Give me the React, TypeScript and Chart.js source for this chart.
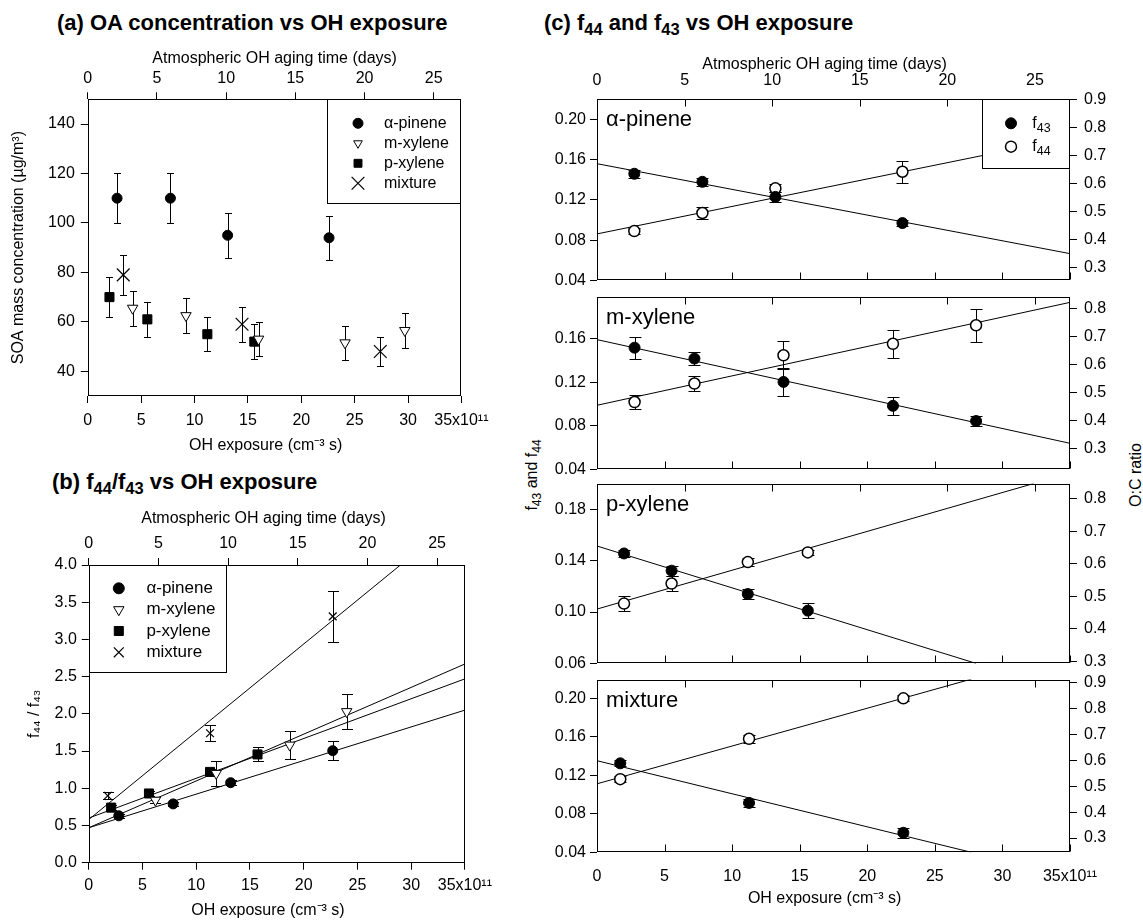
import React, { useEffect, useRef } from 'react';
import { Chart, registerables } from 'chart.js';

Chart.register(...registerables);

const FONT = "'Liberation Sans', Arial, Helvetica, sans-serif";
Chart.defaults.font.family = FONT;
Chart.defaults.color = '#000';

// ====================== DATA ======================
// shared axes
const exposureTicks = [0, 5, 10, 15, 20, 25, 30, 35];
const exposureTickLabels = ['0', '5', '10', '15', '20', '25', '30', '35x10¹¹'];
const exposureMax = 35;
const dayTicks = [0, 5, 10, 15, 20, 25];
const dayTickLabels = ['0', '5', '10', '15', '20', '25'];
const dayMax = 27;

// (a) OA concentration vs OH exposure
const aYTicks = [40, 60, 80, 100, 120, 140];
const aYTickLabels = ['40', '60', '80', '100', '120', '140'];
const aYRange = [30, 150];
const aPineneX = [2.74, 7.74, 13.1, 22.6];
const aPineneY = [110, 110, 95, 94];
const aPineneErr = [10, 10, 9, 9];
const aMxyleneX = [4.2, 9.2, 16.0, 24.1, 29.7];
const aMxyleneY = [65.5, 62.5, 53, 51.5, 56.5];
const aMxyleneErr = [7, 7, 7, 7, 7];
const aPxyleneX = [2.03, 5.58, 11.2, 15.6];
const aPxyleneY = [70, 61, 55, 52];
const aPxyleneErr = [8, 7, 7, 7];
const aMixtureX = [3.32, 14.45, 27.4];
const aMixtureY = [79, 59, 48];
const aMixtureErr = [8, 7, 6];

// (b) f44/f43 vs OH exposure
const bYTicks = [0, 0.5, 1, 1.5, 2, 2.5, 3, 3.5, 4];
const bYTickLabels = ['0.0', '0.5', '1.0', '1.5', '2.0', '2.5', '3.0', '3.5', '4.0'];
const bYRange = [0, 4];
const bPineneX = [2.79, 7.85, 13.2, 22.7];
const bPineneY = [0.63, 0.79, 1.075, 1.505];
const bPineneErr = [0.03, 0.03, 0.03, 0.125];
const bMxyleneX = [6.2, 11.86, 18.7, 24.0];
const bMxyleneY = [0.84, 1.2, 1.58, 2.03];
const bMxyleneErr = [0.04, 0.165, 0.185, 0.24];
const bPxyleneX = [2.08, 5.6, 11.28, 15.7];
const bPxyleneY = [0.74, 0.93, 1.22, 1.455];
const bPxyleneErr = [0.03, 0.03, 0.04, 0.095];
const bMixtureX = [1.76, 11.28, 22.7];
const bMixtureY = [0.9, 1.74, 3.31];
const bMixtureErr = [0.045, 0.11, 0.34];
const bPineneFitX = [0, 35];
const bPineneFitY = [0.47, 2.05];
const bMxyleneFitX = [0, 35];
const bMxyleneFitY = [0.47, 2.67];
const bPxyleneFitX = [0, 35];
const bPxyleneFitY = [0.6, 2.47];
const bMixtureFitX = [0, 29.0];
const bMixtureFitY = [0.58, 4.0];

// (c) f44 and f43 vs OH exposure
const cPineneX = [2.76, 7.8, 13.2, 22.6];
const cPineneF43 = [0.146, 0.138, 0.123, 0.097];
const cPineneF43Err = [0.004, 0.004, 0.005, 0.003];
const cPineneF44 = [0.089, 0.107, 0.1315, 0.148];
const cPineneF44Err = [0.003, 0.006, 0.004, 0.011];
const cPineneF43FitX = [0, 35];
const cPineneF43FitY = [0.156, 0.0666];
const cPineneF44FitX = [0, 35];
const cPineneF44FitY = [0.0862, 0.1818];
const cPineneLeftRange = [0.04, 0.22];
const cPineneLeftTicks = [0.04, 0.08, 0.12, 0.16, 0.2];
const cPineneLeftLabels = ['0.04', '0.08', '0.12', '0.16', '0.20'];
const cPineneRightRange = [0.254, 0.9];
const cPineneRightTicks = [0.3, 0.4, 0.5, 0.6, 0.7, 0.8, 0.9];
const cPineneRightLabels = ['0.3', '0.4', '0.5', '0.6', '0.7', '0.8', '0.9'];

const cMxyleneX = [2.78, 7.21, 13.8, 21.9, 28.05];
const cMxyleneF43 = [0.152, 0.142, 0.1205, 0.0985, 0.0845];
const cMxyleneF43Err = [0.01, 0.006, 0.013, 0.008, 0.005];
const cMxyleneF44 = [0.102, 0.119, 0.145, 0.1556, 0.1726];
const cMxyleneF44Err = [0.006, 0.007, 0.013, 0.013, 0.015];
const cMxyleneF43FitX = [0, 35];
const cMxyleneF43FitY = [0.1594, 0.064];
const cMxyleneF44FitX = [0, 35];
const cMxyleneF44FitY = [0.099, 0.1937];
const cMxyleneLeftRange = [0.04, 0.199];
const cMxyleneLeftTicks = [0.04, 0.08, 0.12, 0.16];
const cMxyleneLeftLabels = ['0.04', '0.08', '0.12', '0.16'];
const cMxyleneRightRange = [0.227, 0.841];
const cMxyleneRightTicks = [0.3, 0.4, 0.5, 0.6, 0.7, 0.8];
const cMxyleneRightLabels = ['0.3', '0.4', '0.5', '0.6', '0.7', '0.8'];

const cPxyleneX = [2.0, 5.52, 11.16, 15.6];
const cPxyleneF43 = [0.1456, 0.1322, 0.114, 0.1011];
const cPxyleneF43Err = [0.003, 0.004, 0.004, 0.006];
const cPxyleneF44 = [0.1066, 0.1222, 0.1389, 0.1464];
const cPxyleneF44Err = [0.006, 0.006, 0.003, 0.002];
const cPxyleneF43FitX = [0, 28.05];
const cPxyleneF43FitY = [0.1514, 0.06];
const cPxyleneF44FitX = [0, 32.3];
const cPxyleneF44FitY = [0.1023, 0.2];
const cPxyleneLeftRange = [0.06, 0.2];
const cPxyleneLeftTicks = [0.06, 0.1, 0.14, 0.18];
const cPxyleneLeftLabels = ['0.06', '0.10', '0.14', '0.18'];
const cPxyleneRightRange = [0.293, 0.847];
const cPxyleneRightTicks = [0.3, 0.4, 0.5, 0.6, 0.7, 0.8];
const cPxyleneRightLabels = ['0.3', '0.4', '0.5', '0.6', '0.7', '0.8'];

const cMixtureX = [1.72, 11.25, 22.67];
const cMixtureF43 = [0.1325, 0.0913, 0.0603];
const cMixtureF43Err = [0.003, 0.004, 0.005];
const cMixtureF44 = [0.116, 0.158, 0.2];
const cMixtureF44Err = [0.003, 0.004, 0.003];
const cMixtureF43FitX = [0, 27.7];
const cMixtureF43FitY = [0.1352, 0.04];
const cMixtureF44FitX = [0, 27.7];
const cMixtureF44FitY = [0.1112, 0.22];
const cMixtureLeftRange = [0.04, 0.2195];
const cMixtureLeftTicks = [0.04, 0.08, 0.12, 0.16, 0.2];
const cMixtureLeftLabels = ['0.04', '0.08', '0.12', '0.16', '0.20'];
const cMixtureRightRange = [0.245, 0.912];
const cMixtureRightTicks = [0.3, 0.4, 0.5, 0.6, 0.7, 0.8, 0.9];
const cMixtureRightLabels = ['0.3', '0.4', '0.5', '0.6', '0.7', '0.8', '0.9'];

// ====================== HELPERS ======================
const pts = (xs: number[], ys: number[]) => xs.map((x, i) => ({ x, y: ys[i] }));

const mk: any = {
  circle: (r: number) => ({ pointStyle: 'circle', pointRadius: r, pointHoverRadius: r, pointBackgroundColor: '#000', pointBorderColor: '#000', pointBorderWidth: 1 }),
  openCircle: (r: number) => ({ pointStyle: 'circle', pointRadius: r, pointHoverRadius: r, pointBackgroundColor: '#fff', pointBorderColor: '#000', pointBorderWidth: 1.5 }),
  triDown: (r: number) => ({ pointStyle: 'triangle', pointRotation: 180, pointRadius: r, pointHoverRadius: r, pointBackgroundColor: '#fff', pointBorderColor: '#000', pointBorderWidth: 1 }),
  square: (r: number) => ({ pointStyle: 'rect', pointRadius: r, pointHoverRadius: r, pointBackgroundColor: '#000', pointBorderColor: '#000', pointBorderWidth: 1 }),
  cross: (r: number) => ({ pointStyle: 'crossRot', pointRadius: r, pointHoverRadius: r, pointBackgroundColor: '#000', pointBorderColor: '#000', pointBorderWidth: 1.2 }),
};

const fitLine = (xs: number[], ys: number[]) => ({
  data: pts(xs, ys), showLine: true, pointRadius: 0, pointHoverRadius: 0,
  borderColor: '#000', borderWidth: 1, fill: false,
});

function drawRich(ctx: any, segs: any[], x: number, y: number, size: number) {
  ctx.textBaseline = 'middle';
  ctx.textAlign = 'left';
  let cx = x;
  for (const s of segs) {
    const fs = s.sub || s.sup ? size * 0.78 : size;
    ctx.font = `${fs}px ${FONT}`;
    const dy = s.sub ? size * 0.3 : s.sup ? -size * 0.35 : 0;
    ctx.fillText(s.t, cx, y + dy);
    cx += ctx.measureText(s.t).width;
  }
}

function drawMarker(ctx: any, kind: string, x: number, y: number, r: number) {
  ctx.save();
  ctx.strokeStyle = '#000';
  ctx.lineWidth = 1;
  ctx.beginPath();
  if (kind === 'circle' || kind === 'openCircle') {
    ctx.arc(x, y, r, 0, Math.PI * 2);
    ctx.fillStyle = kind === 'circle' ? '#000' : '#fff';
    ctx.fill();
    if (kind === 'openCircle') ctx.lineWidth = 1.5;
    ctx.stroke();
  } else if (kind === 'triDown') {
    ctx.moveTo(x, y + r);
    ctx.lineTo(x - r * 0.866, y - r / 2);
    ctx.lineTo(x + r * 0.866, y - r / 2);
    ctx.closePath();
    ctx.fillStyle = '#fff';
    ctx.fill();
    ctx.stroke();
  } else if (kind === 'square') {
    const s = r * Math.SQRT1_2;
    ctx.rect(x - s, y - s, 2 * s, 2 * s);
    ctx.fillStyle = '#000';
    ctx.fill();
    ctx.stroke();
  } else if (kind === 'cross') {
    const s = r * Math.SQRT1_2;
    ctx.lineWidth = 1.2;
    ctx.moveTo(x - s, y - s); ctx.lineTo(x + s, y + s);
    ctx.moveTo(x - s, y + s); ctx.lineTo(x + s, y - s);
    ctx.stroke();
  }
  ctx.restore();
}

const framePlugin = () => ({
  id: 'frame',
  afterDatasetsDraw(chart: any) {
    const { ctx, chartArea: a } = chart;
    ctx.save();
    ctx.strokeStyle = '#000';
    ctx.lineWidth = 1;
    const l = Math.round(a.left) + 0.5, t = Math.round(a.top) + 0.5;
    const r = Math.round(a.right) - 0.5, b = Math.round(a.bottom) - 0.5;
    ctx.strokeRect(l, t, r - l, b - t);
    ctx.restore();
  },
});

const errorBarPlugin = (capHalf: number, width = 1) => ({
  id: 'errorBars',
  beforeDatasetsDraw(chart: any) {
    const { ctx, chartArea: a } = chart;
    ctx.save();
    ctx.beginPath();
    ctx.rect(a.left, a.top, a.width, a.height);
    ctx.clip();
    ctx.strokeStyle = '#000';
    ctx.lineWidth = width;
    chart.data.datasets.forEach((ds: any) => {
      if (!ds.errors) return;
      const xs = chart.scales[ds.xAxisID || 'x'];
      const ys = chart.scales[ds.yAxisID || 'y'];
      ds.data.forEach((p: any, j: number) => {
        const e = ds.errors[j];
        if (!e) return;
        const x = Math.round(xs.getPixelForValue(p.x)) + 0.5;
        const y1 = Math.round(ys.getPixelForValue(p.y - e)) + 0.5;
        const y2 = Math.round(ys.getPixelForValue(p.y + e)) + 0.5;
        ctx.beginPath();
        ctx.moveTo(x, y1); ctx.lineTo(x, y2);
        ctx.moveTo(x - capHalf, y1); ctx.lineTo(x + capHalf, y1);
        ctx.moveTo(x - capHalf, y2); ctx.lineTo(x + capHalf, y2);
        ctx.stroke();
      });
    });
    ctx.restore();
  },
});

const innerTicksPlugin = (len: number) => ({
  id: 'innerTicks',
  afterDatasetsDraw(chart: any) {
    const { ctx, chartArea: a } = chart;
    ctx.save();
    ctx.strokeStyle = '#000';
    ctx.lineWidth = 1;
    ctx.beginPath();
    const top = Math.round(a.top) + 0.5;
    const bot = Math.round(a.bottom) - 0.5;
    dayTicks.forEach((v) => {
      const x = Math.round(chart.scales.x2.getPixelForValue(v)) + 0.5;
      ctx.moveTo(x, top); ctx.lineTo(x, top + len);
    });
    exposureTicks.forEach((v) => {
      const x = Math.round(chart.scales.x.getPixelForValue(v)) + 0.5;
      ctx.moveTo(x, bot); ctx.lineTo(x, bot - len);
    });
    ctx.stroke();
    ctx.restore();
  },
});

const legendBoxPlugin = (spec: any) => ({
  id: 'boxLegend',
  afterDatasetsDraw(chart: any) {
    const { ctx, chartArea: a } = chart;
    const bx = spec.side === 'right' ? a.right - spec.w : a.left;
    const by = a.top;
    ctx.save();
    ctx.fillStyle = '#fff';
    ctx.fillRect(bx, by, spec.w, spec.h);
    ctx.strokeStyle = '#000';
    ctx.lineWidth = 1;
    const L = Math.round(bx) + 0.5, T = Math.round(by) + 0.5;
    const R = Math.round(bx + spec.w) - 0.5, B = Math.round(by + spec.h) - 0.5;
    ctx.strokeRect(L, T, R - L, B - T);
    spec.items.forEach((it: any, k: number) => {
      const y = by + spec.rows[k];
      drawMarker(ctx, it.kind, bx + spec.symX, y, it.r);
      ctx.fillStyle = '#000';
      drawRich(ctx, it.label, bx + spec.textX, y, spec.font);
    });
    ctx.restore();
  },
});

const panelLabelPlugin = (text: string) => ({
  id: 'panelLabel',
  afterDatasetsDraw(chart: any) {
    const { ctx, chartArea: a } = chart;
    ctx.save();
    ctx.fillStyle = '#000';
    drawRich(ctx, [{ t: text }], a.left + 9, a.top + 21, 22);
    ctx.restore();
  },
});

function axis(o: any) {
  const horizontal = o.position === 'top' || o.position === 'bottom';
  return {
    type: 'linear',
    position: o.position,
    min: o.min,
    max: o.max,
    display: o.display !== false,
    grid: {
      display: o.outTicks !== false,
      drawOnChartArea: false,
      drawTicks: true,
      tickLength: 7,
      color: '#000',
      lineWidth: 1,
    },
    border: { display: false },
    ticks: {
      display: true,
      autoSkip: false,
      maxRotation: 0,
      minRotation: 0,
      padding: o.pad ?? 5,
      color: '#000',
      font: { family: FONT, size: 16 },
      callback: (_v: any, i: number) => (o.labels ? o.labels[i] : ''),
    },
    title: o.title
      ? { display: true, text: o.title, color: '#000', font: { family: FONT, size: 16 }, padding: 0 }
      : { display: false },
    afterBuildTicks: (sc: any) => {
      sc.ticks = o.values.map((v: number) => ({ value: v }));
    },
    afterFit: (sc: any) => {
      if (o.size == null || o.display === false) return;
      if (horizontal) sc.height = o.size;
      else sc.width = o.size;
    },
  };
}

function baseOptions(padding: any, scales: any) {
  return {
    responsive: false,
    maintainAspectRatio: false,
    animation: false,
    events: [],
    layout: { padding: { left: 0, right: 0, top: 0, bottom: 0, ...padding } },
    plugins: { legend: { display: false }, tooltip: { enabled: false }, title: { display: false } },
    scales,
  };
}

// trailing no-break spaces nudge the centred titles slightly left, as in the original
const NB = '\u00a0';
const xTitle = 'OH exposure (cm⁻³ s)' + NB.repeat(4);
const daysTitle = 'Atmospheric OH aging time (days)';

// ---------------- panel (a) ----------------
function configA() {
  return {
    type: 'scatter',
    data: {
      datasets: [
        { label: 'α-pinene', data: pts(aPineneX, aPineneY), errors: aPineneErr, ...mk.circle(5) },
        { label: 'm-xylene', data: pts(aMxyleneX, aMxyleneY), errors: aMxyleneErr, ...mk.triDown(6) },
        { label: 'p-xylene', data: pts(aPxyleneX, aPxyleneY), errors: aPxyleneErr, ...mk.square(6.4) },
        { label: 'mixture', data: pts(aMixtureX, aMixtureY), errors: aMixtureErr, ...mk.cross(9) },
      ],
    },
    options: baseOptions({ right: 38.6 }, {
      x: axis({ position: 'bottom', min: 0, max: exposureMax, values: exposureTicks, labels: exposureTickLabels, size: 59, pad: 8, title: xTitle }),
      x2: axis({ position: 'top', min: 0, max: dayMax, values: dayTicks, labels: dayTickLabels, size: 50.3, pad: 4.4, title: daysTitle }),
      y: axis({ position: 'left', min: aYRange[0], max: aYRange[1], values: aYTicks, labels: aYTickLabels, size: 78.8, pad: 6, title: 'SOA mass concentration (µg/m³)' }),
    }),
    plugins: [
      errorBarPlugin(3.5),
      framePlugin(),
      legendBoxPlugin({
        side: 'right', w: 134.4, h: 104.7, rows: [24, 44, 64, 84], symX: 31, textX: 57, font: 16,
        items: [
          { kind: 'circle', r: 5, label: [{ t: 'α-pinene' }] },
          { kind: 'triDown', r: 5, label: [{ t: 'm-xylene' }] },
          { kind: 'square', r: 5.6, label: [{ t: 'p-xylene' }] },
          { kind: 'cross', r: 9, label: [{ t: 'mixture' }] },
        ],
      }),
    ],
  };
}

// ---------------- panel (b) ----------------
function configB() {
  return {
    type: 'scatter',
    data: {
      datasets: [
        { label: 'α-pinene', data: pts(bPineneX, bPineneY), errors: bPineneErr, ...mk.circle(5) },
        { label: 'm-xylene', data: pts(bMxyleneX, bMxyleneY), errors: bMxyleneErr, ...mk.triDown(6) },
        { label: 'p-xylene', data: pts(bPxyleneX, bPxyleneY), errors: bPxyleneErr, ...mk.square(6.4) },
        { label: 'mixture', data: pts(bMixtureX, bMixtureY), errors: bMixtureErr, ...mk.cross(5.5) },
        fitLine(bPineneFitX, bPineneFitY),
        fitLine(bMxyleneFitX, bMxyleneFitY),
        fitLine(bPxyleneFitX, bPxyleneFitY),
        fitLine(bMixtureFitX, bMixtureFitY),
      ],
    },
    options: baseOptions({ right: 35.1 }, {
      x: axis({ position: 'bottom', min: 0, max: exposureMax, values: exposureTicks, labels: exposureTickLabels, size: 57.3, pad: 6, title: xTitle }),
      x2: axis({ position: 'top', min: 0, max: dayMax, values: dayTicks, labels: dayTickLabels, size: 56, pad: 5, title: daysTitle + NB.repeat(6) }),
      y: axis({ position: 'left', min: bYRange[0], max: bYRange[1], values: bYTicks, labels: bYTickLabels, size: 63.8, pad: 5, title: 'f₄₄ / f₄₃' }),
    }),
    plugins: [
      errorBarPlugin(5.5),
      framePlugin(),
      legendBoxPlugin({
        side: 'left', w: 138.5, h: 108.3, rows: [23.3, 44.7, 66, 87.3], symX: 30, textX: 57.6, font: 17,
        items: [
          { kind: 'circle', r: 5.5, label: [{ t: 'α-pinene' }] },
          { kind: 'triDown', r: 6, label: [{ t: 'm-xylene' }] },
          { kind: 'square', r: 6.4, label: [{ t: 'p-xylene' }] },
          { kind: 'cross', r: 7, label: [{ t: 'mixture' }] },
        ],
      }),
    ],
  };
}

// ---------------- panel (c) ----------------
const C_LEFT = 545;
const C_WIDTH = 575;
const C_PLOT_LEFT = 597;
const C_PLOT_RIGHT = 1070;

const C_GEOM = [
  { top: 55, height: 242, chartTop: 99.3, chartBottom: 285 },
  { top: 280, height: 206, chartTop: 292.3, chartBottom: 473.3 },
  { top: 467, height: 213, chartTop: 479.3, chartBottom: 667.3 },
  { top: 663, height: 245, chartTop: 675, chartBottom: 852.3 },
];

function configC(k: number) {
  const sub = [
    { name: 'α-pinene', x: cPineneX, f43: cPineneF43, f43e: cPineneF43Err, f44: cPineneF44, f44e: cPineneF44Err,
      f43fx: cPineneF43FitX, f43fy: cPineneF43FitY, f44fx: cPineneF44FitX, f44fy: cPineneF44FitY,
      lr: cPineneLeftRange, lt: cPineneLeftTicks, ll: cPineneLeftLabels, rr: cPineneRightRange, rt: cPineneRightTicks, rl: cPineneRightLabels },
    { name: 'm-xylene', x: cMxyleneX, f43: cMxyleneF43, f43e: cMxyleneF43Err, f44: cMxyleneF44, f44e: cMxyleneF44Err,
      f43fx: cMxyleneF43FitX, f43fy: cMxyleneF43FitY, f44fx: cMxyleneF44FitX, f44fy: cMxyleneF44FitY,
      lr: cMxyleneLeftRange, lt: cMxyleneLeftTicks, ll: cMxyleneLeftLabels, rr: cMxyleneRightRange, rt: cMxyleneRightTicks, rl: cMxyleneRightLabels },
    { name: 'p-xylene', x: cPxyleneX, f43: cPxyleneF43, f43e: cPxyleneF43Err, f44: cPxyleneF44, f44e: cPxyleneF44Err,
      f43fx: cPxyleneF43FitX, f43fy: cPxyleneF43FitY, f44fx: cPxyleneF44FitX, f44fy: cPxyleneF44FitY,
      lr: cPxyleneLeftRange, lt: cPxyleneLeftTicks, ll: cPxyleneLeftLabels, rr: cPxyleneRightRange, rt: cPxyleneRightTicks, rl: cPxyleneRightLabels },
    { name: 'mixture', x: cMixtureX, f43: cMixtureF43, f43e: cMixtureF43Err, f44: cMixtureF44, f44e: cMixtureF44Err,
      f43fx: cMixtureF43FitX, f43fy: cMixtureF43FitY, f44fx: cMixtureF44FitX, f44fy: cMixtureF44FitY,
      lr: cMixtureLeftRange, lt: cMixtureLeftTicks, ll: cMixtureLeftLabels, rr: cMixtureRightRange, rt: cMixtureRightTicks, rl: cMixtureRightLabels },
  ][k];
  const g = C_GEOM[k];
  const isTop = k === 0;
  const isBottom = k === 3;
  const padding: any = { left: 0, right: 0 };
  if (!isTop) padding.top = g.chartTop - g.top;
  if (!isBottom) padding.bottom = g.top + g.height - g.chartBottom;
  const plugins: any[] = [errorBarPlugin(6), framePlugin(), innerTicksPlugin(7), panelLabelPlugin(sub.name)];
  if (isTop) {
    plugins.push(legendBoxPlugin({
      side: 'right', w: 87.7, h: 70, rows: [24, 47.4], symX: 28.7, textX: 50, font: 16,
      items: [
        { kind: 'circle', r: 5.5, label: [{ t: 'f' }, { t: '43', sub: true }] },
        { kind: 'openCircle', r: 5.5, label: [{ t: 'f' }, { t: '44', sub: true }] },
      ],
    }));
  }
  return {
    type: 'scatter',
    data: {
      datasets: [
        { label: 'f43', data: pts(sub.x, sub.f43), errors: sub.f43e, ...mk.circle(5.5) },
        { label: 'f44', data: pts(sub.x, sub.f44), errors: sub.f44e, ...mk.openCircle(5.5) },
        fitLine(sub.f43fx, sub.f43fy),
        fitLine(sub.f44fx, sub.f44fy),
      ],
    },
    options: baseOptions(padding, {
      x: axis({ position: 'bottom', min: 0, max: exposureMax, values: exposureTicks, labels: exposureTickLabels,
        display: isBottom, outTicks: false, size: g.top + g.height - g.chartBottom, pad: 8.1, title: isBottom ? xTitle : undefined }),
      x2: axis({ position: 'top', min: 0, max: dayMax, values: dayTicks, labels: dayTickLabels,
        display: isTop, outTicks: false, size: g.chartTop - g.top, pad: 2.4, title: isTop ? daysTitle + NB.repeat(4) : undefined }),
      y: axis({ position: 'left', min: sub.lr[0], max: sub.lr[1], values: sub.lt, labels: sub.ll, size: C_PLOT_LEFT - C_LEFT, pad: 4 }),
      y2: axis({ position: 'right', min: sub.rr[0], max: sub.rr[1], values: sub.rt, labels: sub.rl, size: C_LEFT + C_WIDTH - C_PLOT_RIGHT, pad: 7 }),
    }),
    plugins,
  };
}

function ChartBox({ left, top, width, height, make }: any) {
  const ref = useRef<HTMLCanvasElement>(null);
  useEffect(() => {
    const chart = new Chart(ref.current as any, make() as any);
    return () => chart.destroy();
  }, [make]);
  return (
    <canvas ref={ref} width={width} height={height}
      style={{ position: 'absolute', left, top, width, height }} />
  );
}

const makeC0 = () => configC(0);
const makeC1 = () => configC(1);
const makeC2 = () => configC(2);
const makeC3 = () => configC(3);
const cMakers = [makeC0, makeC1, makeC2, makeC3];

const titleStyle: any = {
  position: 'absolute', fontFamily: FONT, fontWeight: 'bold', fontSize: 22, lineHeight: '22px', whiteSpace: 'nowrap', color: '#000',
};
const subStyle: any = { fontSize: '0.75em', verticalAlign: '-0.3em', lineHeight: 0 };

export default function App() {
  return (
    <div style={{ position: 'absolute', left: 0, top: 0, width: 1143, height: 920, background: '#fff', overflow: 'hidden' }}>
      <div style={{ ...titleStyle, left: 57, top: 12 }}>(a) OA concentration vs OH exposure</div>
      <div style={{ ...titleStyle, left: 52, top: 471 }}>
        (b) f<sub style={subStyle}>44</sub>/f<sub style={subStyle}>43</sub> vs OH exposure
      </div>
      <div style={{ ...titleStyle, left: 544, top: 12 }}>
        (c) f<sub style={subStyle}>44</sub> and f<sub style={subStyle}>43</sub> vs OH exposure
      </div>

      <ChartBox left={9} top={49} width={491} height={406} make={configA} />
      <ChartBox left={25} top={509} width={475} height={411} make={configB} />
      {C_GEOM.map((g, k) => (
        <ChartBox key={k} left={C_LEFT} top={g.top} width={C_WIDTH} height={g.height} make={cMakers[k]} />
      ))}

      <div style={{ position: 'absolute', left: 532, top: 475, transform: 'translate(-50%,-50%) rotate(-90deg)',
        fontFamily: FONT, fontSize: 16, lineHeight: '16px', whiteSpace: 'nowrap', color: '#000' }}>
        f<sub style={subStyle}>43</sub> and f<sub style={subStyle}>44</sub>
      </div>
      <div style={{ position: 'absolute', left: 1136, top: 475, transform: 'translate(-50%,-50%) rotate(-90deg)',
        fontFamily: FONT, fontSize: 16, lineHeight: '16px', whiteSpace: 'nowrap', color: '#000' }}>
        O:C ratio
      </div>
    </div>
  );
}
